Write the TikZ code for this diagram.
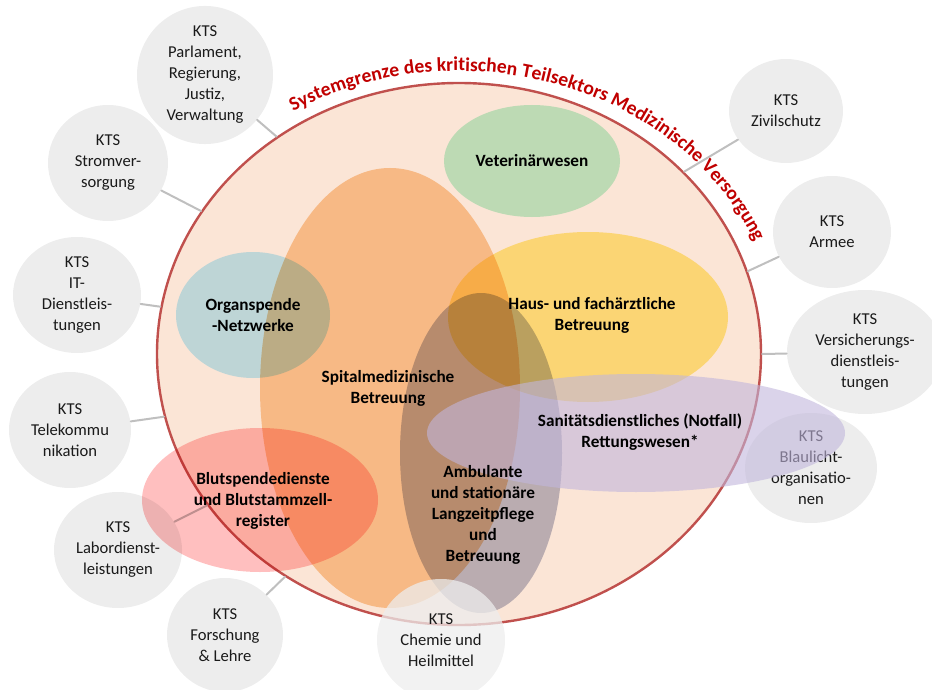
\documentclass[tikz,border=0pt]{standalone}
\usepackage{fontspec}
\setmainfont{Carlito}
\usetikzlibrary{shapes.geometric,decorations.text}

\definecolor{grenzfill}{HTML}{FBE5D6}
\definecolor{grenzrot}{HTML}{C0504D}
\definecolor{titelrot}{HTML}{C00000}
\definecolor{ktsgrau}{HTML}{EDEDED}
\definecolor{ktstext}{HTML}{1A1A1A}
\definecolor{linkgrau}{HTML}{BFBFBF}
\definecolor{vetgruen}{HTML}{BDDAB4}
\definecolor{spitalorange}{HTML}{F7B985}
\definecolor{organblau}{HTML}{C2EEFF}
\definecolor{hausgelb}{HTML}{FFEE8B}
\definecolor{pflegegrau}{HTML}{BDC0D2}
\definecolor{rettungslila}{HTML}{C1B6DC}
\definecolor{blutrot}{HTML}{FFBFBF}

\tikzset{
  kts/.style 2 args={ellipse, fill=ktsgrau, inner sep=0pt, minimum width=#1, minimum height=#2,
    align=center, text=ktstext, font=\fontsize{8.3}{10.5}\selectfont},
  zone/.style 2 args={ellipse, inner sep=0pt, minimum width=#1, minimum height=#2},
  link/.style={draw=linkgrau, line width=1pt},
  zonetext/.style={align=center, text=black, font=\bfseries\fontsize{8.6}{10.5}\selectfont},
}

\begin{document}
\begin{tikzpicture}[x=0.5pt, y=-0.5pt, line join=round, line cap=round]
  \useasboundingbox (0,0) rectangle (932,690);
  % Systemgrenze
  \node[zone={302pt}{271pt}, fill=grenzfill, draw=grenzrot, line width=1.2pt] (grenze) at (459,354) {};
  \path[decorate, decoration={text along path, text color=titelrot,
      text={|\bfseries\fontsize{9.8}{12}\selectfont|Systemgrenze des kritischen Teilsektors Medizinische Versorgung}}]
    ([shift={(121:161pt and 141.5pt)}]grenze.center) arc[start angle=121, end angle=0, x radius=161pt, y radius=141.5pt];

  % angrenzende KTS
  \node[kts={68pt}{62pt}] (parl) at (205,75) {KTS\\Parlament,\\Regierung,\\Justiz,\\Verwaltung};
  \node[kts={60pt}{58pt}] (strom) at (108,163) {KTS\\Stromver-\\sorgung};
  \node[kts={64pt}{58pt}] (it) at (77,295) {KTS\\IT-\\Dienstleis-\\tungen};
  \node[kts={61pt}{58pt}] (tele) at (70,430) {KTS\\Telekommu\\nikation};
  \node[kts={64pt}{58pt}] (labor) at (118,550) {KTS\\Labordienst-\\leistungen};
  \node[kts={58pt}{57pt}] (forsch) at (225,635) {KTS\\Forschung\\\& Lehre};
  \node[kts={57pt}{52pt}] (zivil) at (786,111) {KTS\\Zivilschutz};
  \node[kts={59pt}{56pt}] (armee) at (832,232) {KTS\\Armee};
  \node[kts={78pt}{62pt}] (vers) at (865,352) {KTS\\Versicherungs-\\dienstleis-\\tungen};
  \node[kts={66pt}{55pt}] (blaul) at (811,468) {KTS\\Blaulicht-\\organisatio-\\nen};

  \draw[link] (parl) -- (grenze.130);
  \draw[link] (strom) -- (grenze.151);
  \draw[link] (it) -- (grenze.171);
  \draw[link] (tele) -- (grenze.192);
  \draw[link] (labor) -- (grenze.211);
  \draw[link] (forsch) -- (grenze.232);
  \draw[link] (zivil) -- (grenze.39);
  \draw[link] (armee) -- (grenze.16);
  \draw[link] (vers) -- (grenze.0);

  % Bereiche innerhalb der Systemgrenze
  \node[zone={88pt}{56pt}, fill=vetgruen] (vet) at (532,161) {};
  \node[zone={130pt}{220pt}, fill=spitalorange] (spital) at (390,388) {};
  \begin{scope}[blend mode=multiply]
    \node[zone={77pt}{63pt}, fill=organblau] (organ) at (253,315) {};
    \node[zone={140pt}{85pt}, fill=hausgelb] (haus) at (588,317) {};
    \node[zone={81pt}{160pt}, fill=pflegegrau] (pflege) at (481,453) {};
  \end{scope}
  \node[zone={209pt}{59pt}, fill=rettungslila, fill opacity=.6] (rettung) at (636,433) {};
  \node[zone={118pt}{72pt}, fill=blutrot, blend mode=multiply] (blut) at (260,500) {};
  \node[kts={64pt}{61pt}, fill opacity=.75, text opacity=1] (chemie) at (441,640) {KTS\\Chemie und\\Heilmittel};

  % Beschriftungen
  \node[zonetext] (vet-t) at (vet) {Veterinärwesen};
  \node[zonetext] (spital-t) at (388,388) {Spitalmedizinische\\Betreuung};
  \node[zonetext] (organ-t) at (organ) {Organspende\\-Netzwerke};
  \node[zonetext] (haus-t) at (592,315) {Haus- und fachärztliche\\Betreuung};
  \node[zonetext] (pflege-t) at (483,515) {Ambulante\\und stationäre\\Langzeitpflege\\und\\Betreuung};
  \node[zonetext] (rettung-t) at (640,432) {Sanitätsdienstliches (Notfall)\\Rettungswesen*};
  \node[zonetext] (blut-t) at (263,501) {Blutspendedienste\\und Blutstammzell-\\register};
\end{tikzpicture}
\end{document}
